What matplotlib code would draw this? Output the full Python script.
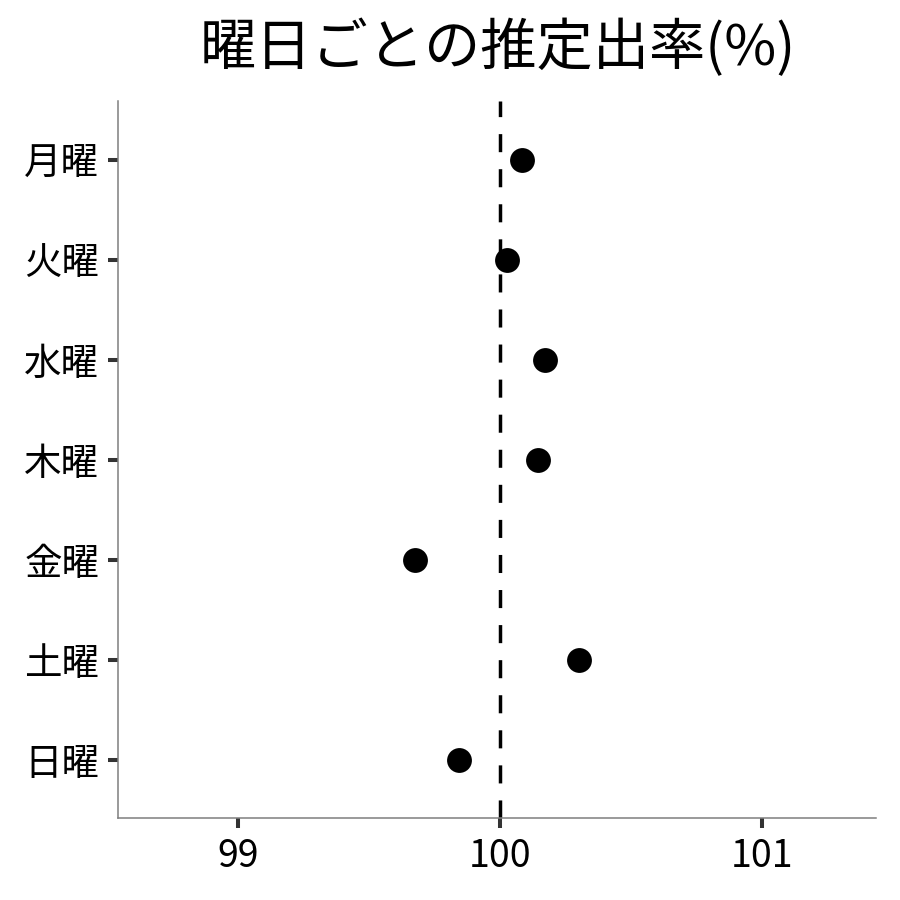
import matplotlib
matplotlib.use("Agg")
import matplotlib.pyplot as plt

plt.rcParams['font.family'] = ['Noto Sans CJK JP', 'DejaVu Sans']

days = ['月曜', '火曜', '水曜', '木曜', '金曜', '土曜', '日曜']
rates = [100.084, 100.027, 100.172, 100.145, 99.676, 100.302, 99.844]
xticks = [99, 100, 101]
ref_line = 100

# top row first, like the reference
ypos = list(range(len(days), 0, -1))

fig = plt.figure(figsize=(9, 9), dpi=100)
ax = fig.add_axes([0.131, 0.091, 0.842, 0.797])

ax.axvline(ref_line, color='black', linestyle=(0, (5.2, 4.9)), linewidth=2.5, zorder=1)
ax.scatter(rates, ypos, s=320, color='black', zorder=3, linewidths=0)

ax.set_xlim(98.542, 101.435)
ax.set_ylim(0.42, 7.59)
ax.set_xticks(xticks)
ax.set_xticklabels([str(t) for t in xticks])
ax.set_yticks(ypos)
ax.set_yticklabels(days)

ax.tick_params(axis='both', length=7.5, width=2.9, color='#333333', labelsize=27, labelcolor='black', pad=6)
for side in ['top', 'right']:
    ax.spines[side].set_visible(False)
for side in ['left', 'bottom']:
    ax.spines[side].set_color('#7f7f7f')
    ax.spines[side].set_linewidth(1.1)

fig.suptitle('曜日ごとの推定出率(%)', fontsize=40.5, x=0.553, y=0.978, va='top')

fig.savefig('out.png', dpi=100, facecolor='white')
